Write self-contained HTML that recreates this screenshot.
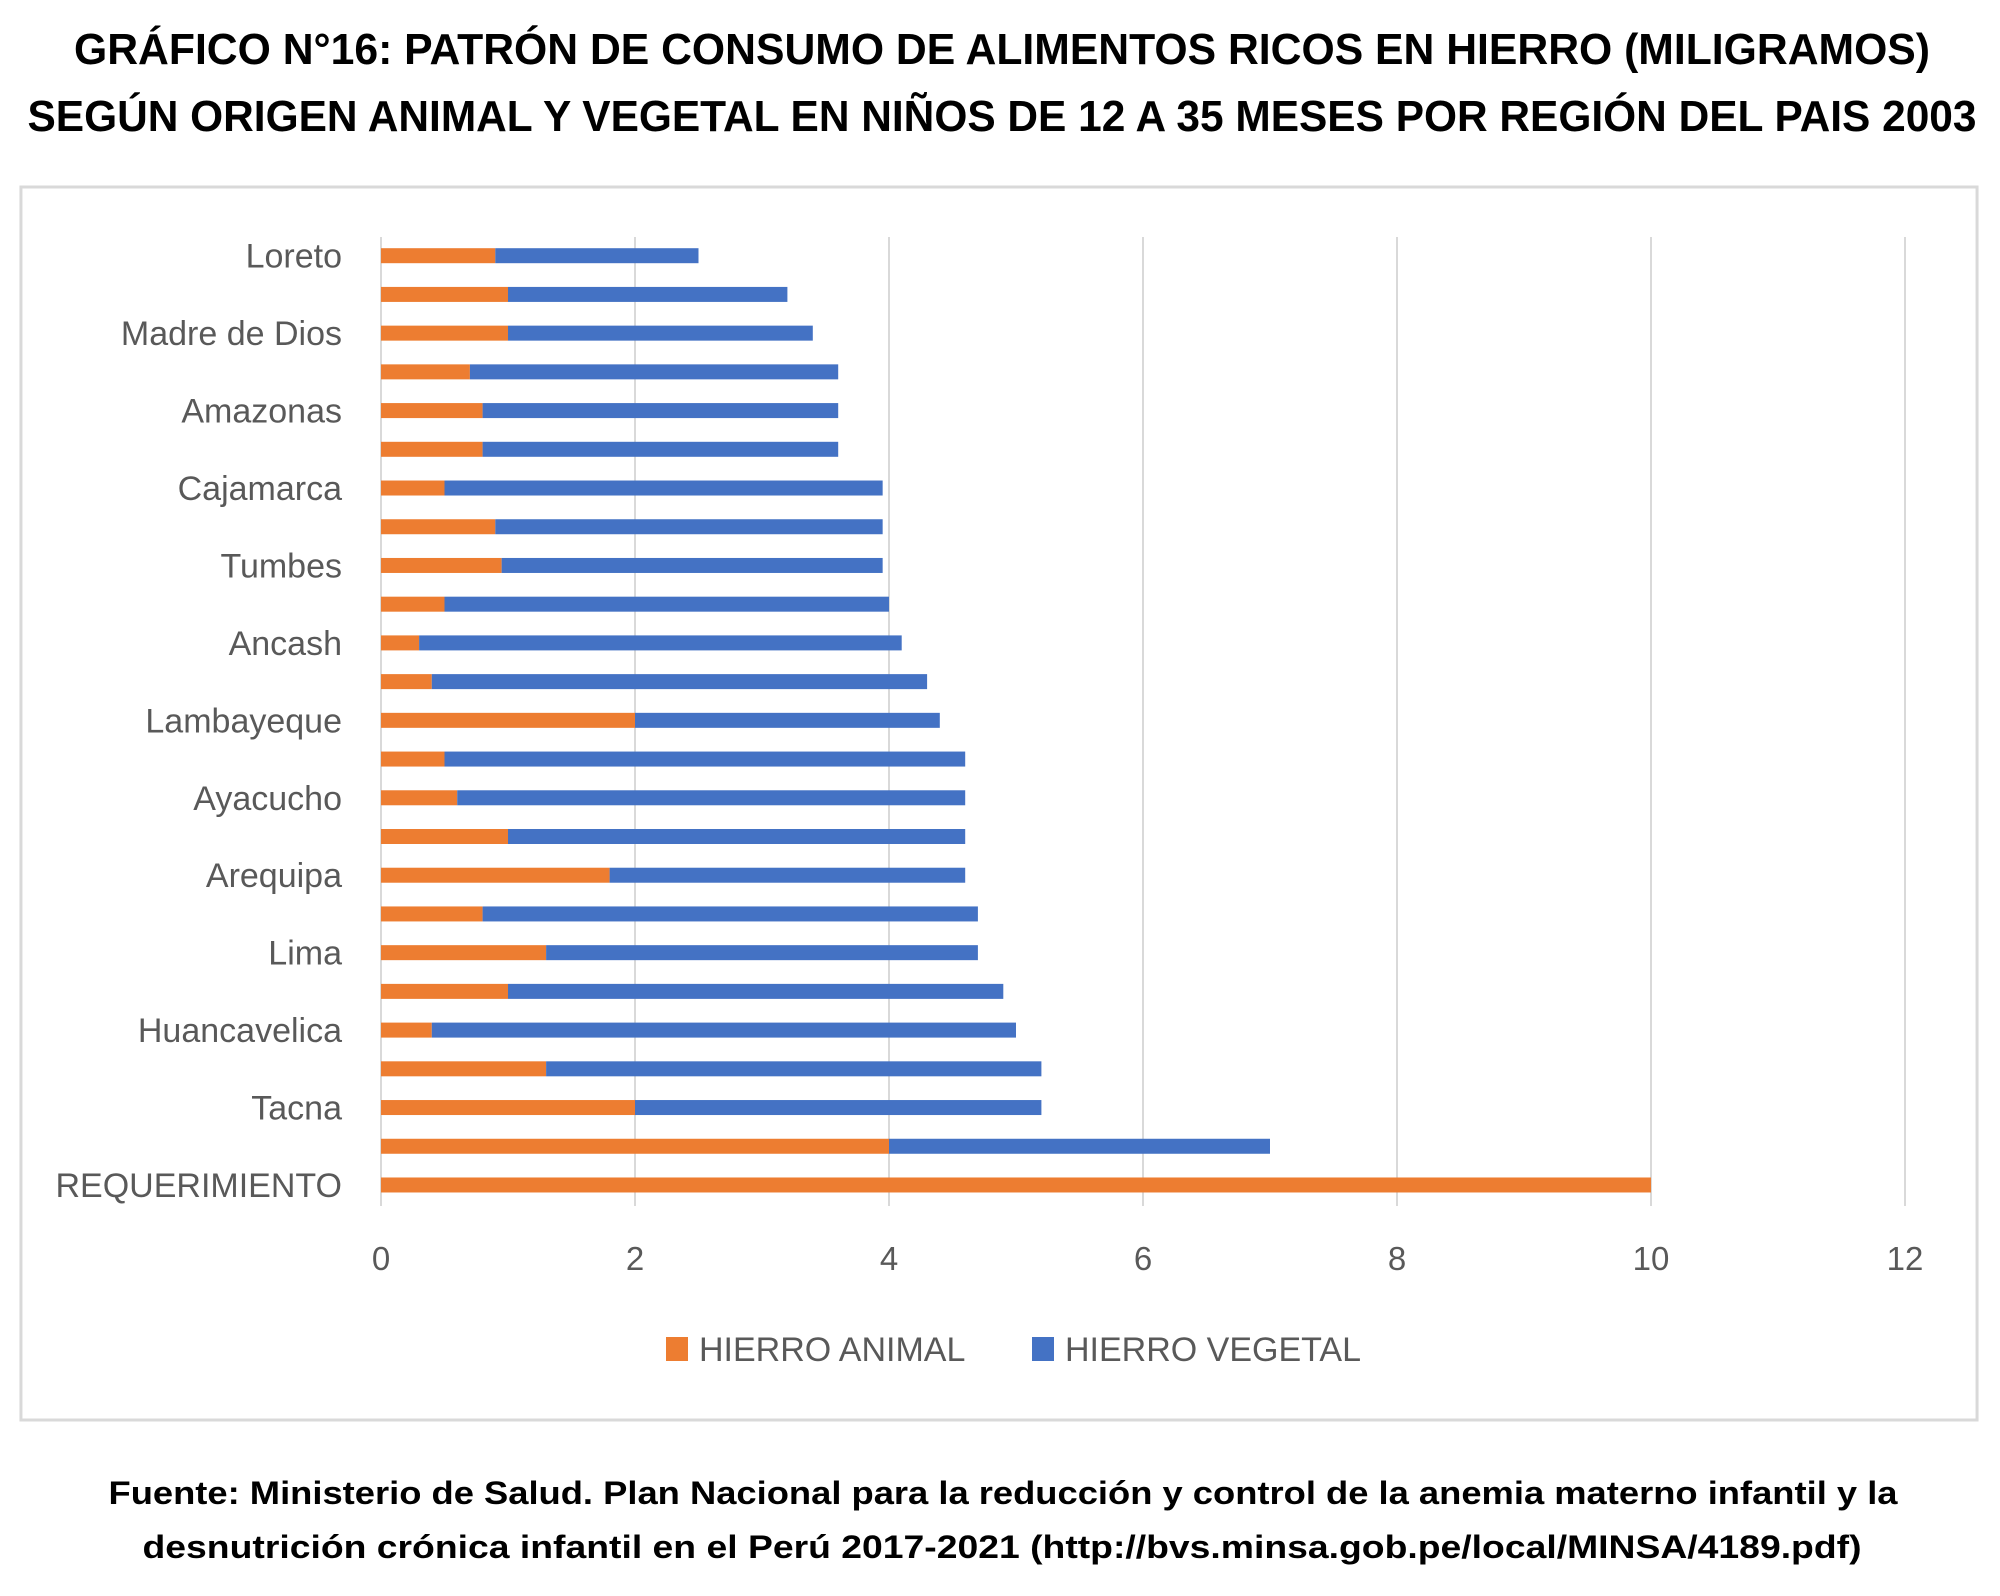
<!DOCTYPE html>
<html>
<head>
<meta charset="utf-8">
<style>
  html,body{margin:0;padding:0;background:#fff;}
  svg{display:block;}
  text{font-family:"Liberation Sans",sans-serif;}
</style>
</head>
<body>
<svg id="chart" width="2000" height="1596" viewBox="0 0 2000 1596" xmlns="http://www.w3.org/2000/svg">
  <text x="1002" y="64" text-anchor="middle" font-size="44" font-weight="bold" fill="#000" textLength="1856" lengthAdjust="spacingAndGlyphs">GRÁFICO N°16: PATRÓN DE CONSUMO DE ALIMENTOS RICOS EN HIERRO (MILIGRAMOS)</text>
  <text x="1002" y="131" text-anchor="middle" font-size="44" font-weight="bold" fill="#000" textLength="1949" lengthAdjust="spacingAndGlyphs">SEGÚN ORIGEN ANIMAL Y VEGETAL EN NIÑOS DE 12 A 35 MESES POR REGIÓN DEL PAIS 2003</text>
  <rect x="21" y="187" width="1961" height="1233" fill="#fff" stroke="#d9d9d9" stroke-width="3" transform="scale(0.9975 1)"/>
  <g id="grid"></g>
  <g id="bars"></g>
  <g id="ylabels"></g>
  <g id="xticks"></g>
  <g>
    <g>
      <rect x="666" y="1337" width="22" height="24" fill="#ED7D31"/>
      <text x="699" y="1361" font-size="34" fill="#595959">HIERRO ANIMAL</text>
    </g>
    <g>
      <rect x="1032" y="1337" width="22" height="24" fill="#4472C4"/>
      <text x="1065" y="1361" font-size="34" fill="#595959">HIERRO VEGETAL</text>
    </g>
  </g>
  <text x="1003" y="1504" text-anchor="middle" font-size="32" font-weight="bold" fill="#000" textLength="1789" lengthAdjust="spacingAndGlyphs">Fuente: Ministerio de Salud. Plan Nacional para la reducción y control de la anemia materno infantil y la</text>
  <text x="1002" y="1558" text-anchor="middle" font-size="32" font-weight="bold" fill="#000" textLength="1719" lengthAdjust="spacingAndGlyphs">desnutrición crónica infantil en el Perú 2017-2021 (http://bvs.minsa.gob.pe/local/MINSA/4189.pdf)</text>
</svg>
<script>
const categories = ["Loreto","","Madre de Dios","","Amazonas","","Cajamarca","","Tumbes","","Ancash","","Lambayeque","","Ayacucho","","Arequipa","","Lima","","Huancavelica","","Tacna","","REQUERIMIENTO"];
const hierroAnimal = [0.9,1.0,1.0,0.7,0.8,0.8,0.5,0.9,0.95,0.5,0.3,0.4,2.0,0.5,0.6,1.0,1.8,0.8,1.3,1.0,0.4,1.3,2.0,4.0,10];
const hierroVegetal = [1.6,2.2,2.4,2.9,2.8,2.8,3.45,3.05,3.0,3.5,3.8,3.9,2.4,4.1,4.0,3.6,2.8,3.9,3.4,3.9,4.6,3.9,3.2,3.0,0];
const xTicks = [0,2,4,6,8,10,12];

const NS = "http://www.w3.org/2000/svg";
const x0 = 381, unit = 127.0;
const xScale = v => x0 + v * unit;
const yTop = 255.7, step = 38.72, barH = 15;
const yScale = i => yTop + i * step;

function mk(tag, attrs, parent) {
  const el = document.createElementNS(NS, tag);
  for (const k in attrs) el.setAttribute(k, attrs[k]);
  parent.appendChild(el);
  return el;
}
const grid = document.getElementById('grid');
const xt = document.getElementById('xticks');
xTicks.forEach(t => {
  const l = mk('line', {x1: xScale(t), x2: xScale(t), y1: 237, y2: 1206, stroke: '#d9d9d9', 'stroke-width': 2}, grid);
  
  
  const tx = mk('text', {x: xScale(t), y: 1270, 'text-anchor': 'middle', 'font-size': 33, fill: '#595959'}, xt);
  tx.textContent = t;
  
  
});
const bars = document.getElementById('bars');
const yl = document.getElementById('ylabels');
categories.forEach((c, i) => {
  const yc = yScale(i);
  const a = hierroAnimal[i], v = hierroVegetal[i];
  const r1 = mk('rect', {x: xScale(0), y: yc - barH/2, width: Math.max(0, xScale(a) - xScale(0)), height: barH, fill: '#ED7D31'}, bars);
  
  
  const r2 = mk('rect', {x: xScale(a), y: yc - barH/2, width: Math.max(0, xScale(a + v) - xScale(a)), height: barH, fill: '#4472C4'}, bars);
  
  
  if (c) {
    const t = mk('text', {x: 342, y: yc + 12, 'text-anchor': 'end', 'font-size': 34, fill: '#595959'}, yl);
    t.textContent = c;
    
    
  }
});
</script>
</body>
</html>
